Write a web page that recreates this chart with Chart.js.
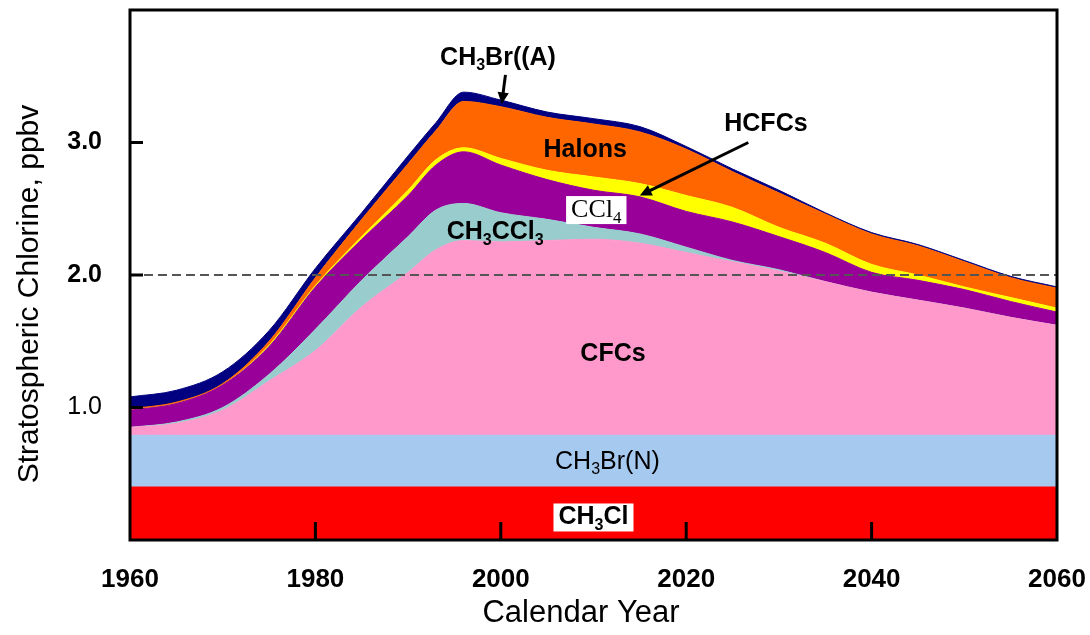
<!DOCTYPE html>
<html>
<head>
<meta charset="utf-8">
<script src="https://cdn.jsdelivr.net/npm/chart.js@4.4.1/dist/chart.umd.min.js"></script>
<style>
  html, body { margin: 0; padding: 0; background: #fff; }
  #wrap { width: 1090px; height: 635px; }
</style>
</head>
<body>
<div id="wrap"><canvas id="chart-chlorine" width="1090" height="635"></canvas></div>
<script>
const years = [1960, 1965, 1970, 1975, 1980, 1985, 1990, 1993, 1996, 2000, 2005, 2010, 2015, 2020, 2025, 2030, 2035, 2040, 2045, 2050, 2055, 2060];

// contributions in ppbv, bottom of the stack first
const ch3cl = [0.40, 0.40, 0.40, 0.40, 0.40, 0.40, 0.40, 0.40, 0.40, 0.40, 0.40, 0.40, 0.40, 0.40, 0.40, 0.40, 0.40, 0.40, 0.40, 0.40, 0.40, 0.40];
const ch3brNatural = [0.39, 0.39, 0.39, 0.39, 0.39, 0.39, 0.39, 0.39, 0.39, 0.39, 0.39, 0.39, 0.39, 0.39, 0.39, 0.39, 0.39, 0.39, 0.39, 0.39, 0.39, 0.39];
const cfcs = [0.06, 0.09, 0.19, 0.41, 0.64, 0.97, 1.23, 1.40, 1.47, 1.46, 1.47, 1.48, 1.45, 1.38, 1.31, 1.24, 1.16, 1.08, 1.02, 0.96, 0.89, 0.83];
const ch3ccl3 = [0.00, 0.01, 0.02, 0.05, 0.16, 0.20, 0.27, 0.30, 0.28, 0.22, 0.16, 0.09, 0.07, 0.04, 0.01, 0.01, 0.00, 0.00, 0.00, 0.00, 0.00, 0.00];
const ccl4 = [0.13, 0.14, 0.17, 0.21, 0.32, 0.31, 0.31, 0.34, 0.39, 0.36, 0.30, 0.28, 0.28, 0.27, 0.29, 0.25, 0.22, 0.15, 0.15, 0.14, 0.12, 0.10];
const hcfcs = [0.00, 0.00, 0.00, 0.01, 0.01, 0.02, 0.04, 0.04, 0.03, 0.05, 0.07, 0.10, 0.10, 0.12, 0.11, 0.07, 0.07, 0.06, 0.04, 0.02, 0.03, 0.03];
const halons = [0.01, 0.01, 0.01, 0.03, 0.06, 0.13, 0.20, 0.22, 0.35, 0.39, 0.40, 0.40, 0.39, 0.35, 0.27, 0.26, 0.22, 0.23, 0.22, 0.19, 0.15, 0.15];
const ch3brAnthro = [0.09, 0.09, 0.09, 0.08, 0.07, 0.05, 0.06, 0.06, 0.07, 0.05, 0.04, 0.04, 0.04, 0.02, 0.02, 0.02, 0.01, 0.01, 0.01, 0.01, 0.01, 0.01];

const yearTicks = [1960, 1980, 2000, 2020, 2040, 2060];
const chlorineTicks = [1.0, 2.0, 3.0];
const REFERENCE_LEVEL = 2.0;

// text labels: [year, ppbv, parts, style]
const labels = [
  [1999.7, 3.64, [["CH", ""], ["3", "sub"], ["Br((A)", ""]], "bold"],
  [2028.6, 3.14, [["HCFCs", ""]], "bold"],
  [2009.1, 2.94, [["Halons", ""]], "bold"],
  [2010.3, 2.49, [["CCl", ""], ["4", "sub"]], "serif"],
  [1999.4, 2.32, [["CH", ""], ["3", "sub"], ["CCl", ""], ["3", "sub"]], "bold"],
  [2012.1, 1.40, [["CFCs", ""]], "bold"],
  [2011.5, 0.59, [["CH", ""], ["3", "sub"], ["Br(N)", ""]], "normal"],
  [2010.0, 0.17, [["CH", ""], ["3", "sub"], ["Cl", ""]], "boxbold"]
];
const arrows = [
  [2000.5, 3.51, 2000.1, 3.29],
  [2026.7, 3.00, 2015.0, 2.60]
];

const SANS = "'Liberation Sans', Arial, sans-serif";

const series = [
  { name: "CH3Cl", data: ch3cl, color: "#ff0000" },
  { name: "CH3Br(N)", data: ch3brNatural, color: "#a6c9ef" },
  { name: "CFCs", data: cfcs, color: "#ff99cc" },
  { name: "CH3CCl3", data: ch3ccl3, color: "#99cccc" },
  { name: "CCl4", data: ccl4, color: "#990099" },
  { name: "HCFCs", data: hcfcs, color: "#ffff00" },
  { name: "Halons", data: halons, color: "#ff6600" },
  { name: "CH3Br(A)", data: ch3brAnthro, color: "#000080" }
];

function labelFont(style, sub) {
  if (style === "serif") return `${sub ? 17 : 26}px 'Liberation Serif', 'Times New Roman', serif`;
  if (style === "normal") return `${sub ? 16 : 25}px ${SANS}`;
  return `bold ${sub ? 16 : 25}px ${SANS}`;
}

function drawLabel(ctx, px, py, parts, style) {
  const widths = parts.map(([text, kind]) => {
    ctx.font = labelFont(style, kind === "sub");
    return ctx.measureText(text).width;
  });
  const total = widths.reduce((a, b) => a + b, 0);
  let x = px - total / 2;
  if (style === "serif" || style === "boxbold") {
    ctx.fillStyle = "#fff";
    ctx.fillRect(x - 5, py - 14, total + 10, 28);
  }
  ctx.fillStyle = "#000";
  ctx.textBaseline = "middle";
  ctx.textAlign = "left";
  parts.forEach(([text, kind], i) => {
    ctx.font = labelFont(style, kind === "sub");
    ctx.fillText(text, x, kind === "sub" ? py + 8 : py);
    x += widths[i];
  });
}

function drawArrow(ctx, x1, y1, x2, y2) {
  const angle = Math.atan2(y2 - y1, x2 - x1);
  const head = 13;
  ctx.strokeStyle = "#000";
  ctx.fillStyle = "#000";
  ctx.lineWidth = 3;
  ctx.beginPath();
  ctx.moveTo(x1, y1);
  ctx.lineTo(x2 - Math.cos(angle) * head * 0.6, y2 - Math.sin(angle) * head * 0.6);
  ctx.stroke();
  ctx.beginPath();
  ctx.moveTo(x2, y2);
  ctx.lineTo(x2 - head * Math.cos(angle - 0.45), y2 - head * Math.sin(angle - 0.45));
  ctx.lineTo(x2 - head * Math.cos(angle + 0.45), y2 - head * Math.sin(angle + 0.45));
  ctx.closePath();
  ctx.fill();
}

const decorPlugin = {
  id: "chlorineDecor",
  afterDatasetsDraw(chart) {
    const { ctx, chartArea: area, scales: { x, y } } = chart;
    ctx.save();

    const refY = y.getPixelForValue(REFERENCE_LEVEL);
    ctx.strokeStyle = "#555";
    ctx.lineWidth = 2;
    ctx.setLineDash([9, 5]);
    ctx.beginPath();
    ctx.moveTo(area.left, refY);
    ctx.lineTo(area.right, refY);
    ctx.stroke();
    ctx.setLineDash([]);

    ctx.strokeStyle = "#000";
    ctx.lineWidth = 3;
    ctx.strokeRect(area.left, area.top, area.right - area.left, area.bottom - area.top);

    ctx.beginPath();
    yearTicks.slice(1, -1).forEach(year => {
      const px = x.getPixelForValue(year);
      ctx.moveTo(px, area.bottom);
      ctx.lineTo(px, area.bottom - 18);
    });
    chlorineTicks.forEach(value => {
      const py = y.getPixelForValue(value);
      ctx.moveTo(area.left, py);
      ctx.lineTo(area.left + 13, py);
    });
    ctx.stroke();
    ctx.restore();
  },
  afterDraw(chart) {
    const { ctx, scales: { x, y } } = chart;
    ctx.save();
    labels.forEach(([year, value, parts, style]) => {
      drawLabel(ctx, x.getPixelForValue(year), y.getPixelForValue(value), parts, style);
    });
    arrows.forEach(([x1, y1, x2, y2]) => {
      drawArrow(ctx, x.getPixelForValue(x1), y.getPixelForValue(y1), x.getPixelForValue(x2), y.getPixelForValue(y2));
    });

    ctx.fillStyle = "#000";
    ctx.textAlign = "center";
    ctx.textBaseline = "middle";
    ctx.font = `31px ${SANS}`;
    ctx.fillText("Calendar Year", 581, 613);
    ctx.font = `30px ${SANS}`;
    ctx.translate(30, 294);
    ctx.rotate(-Math.PI / 2);
    ctx.fillText("Stratospheric Chlorine, ppbv", 0, 0);
    ctx.restore();
  }
};

new Chart(document.getElementById("chart-chlorine").getContext("2d"), {
  type: "line",
  data: {
    datasets: series.map((item, i) => ({
      label: item.name,
      data: years.map((year, j) => ({ x: year, y: item.data[j] })),
      backgroundColor: item.color,
      borderColor: item.color,
      borderWidth: 1,
      pointRadius: 0,
      fill: i === 0 ? "origin" : "-1",
      cubicInterpolationMode: "monotone"
    }))
  },
  options: {
    responsive: false,
    animation: false,
    devicePixelRatio: 1,
    layout: { padding: { left: 0, right: 33, top: 10, bottom: 0 } },
    plugins: { legend: { display: false }, tooltip: { enabled: false } },
    scales: {
      x: {
        type: "linear",
        min: 1960,
        max: 2060,
        afterFit: scale => {
          scale.height = 95;
          scale.paddingLeft = 0;
          scale.paddingRight = 0;
        },
        afterBuildTicks: scale => { scale.ticks = yearTicks.map(value => ({ value })); },
        grid: { display: false },
        border: { display: false },
        ticks: {
          color: "#000",
          padding: 16,
          maxRotation: 0,
          callback: value => String(value),
          font: { family: SANS, size: 26, weight: "bold" }
        }
      },
      y: {
        stacked: true,
        min: 0,
        max: 4,
        afterFit: scale => {
          scale.width = 130;
          scale.paddingTop = 0;
          scale.paddingBottom = 0;
        },
        afterBuildTicks: scale => { scale.ticks = chlorineTicks.map(value => ({ value })); },
        grid: { display: false },
        border: { display: false },
        ticks: {
          color: "#000",
          padding: 20,
          callback: value => value.toFixed(1),
          font: ctx => ({ family: SANS, size: 25, weight: ctx.tick && ctx.tick.value === 1 ? "normal" : "bold" })
        }
      }
    }
  },
  plugins: [decorPlugin]
});
</script>
</body>
</html>
